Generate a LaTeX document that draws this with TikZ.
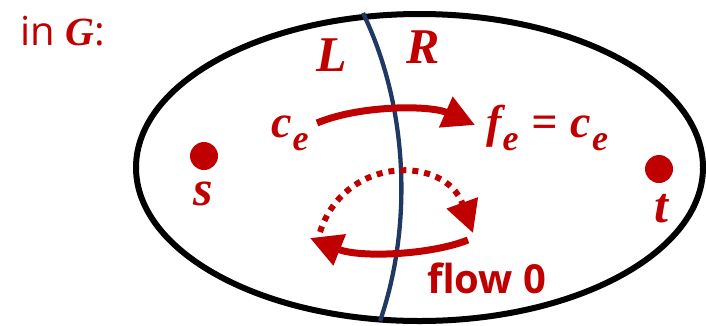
\documentclass[tikz,border=0pt]{standalone}
\usepackage{fontspec}
\setmainfont{Liberation Serif}
\setsansfont{Open Sans}
\usepackage{tikz}
\usetikzlibrary{arrows.meta,positioning}
\definecolor{cutred}{HTML}{C00000}
\definecolor{cutnavy}{HTML}{1F3864}
% bold italic variable, subscript lowered
\newcommand{\mv}[1]{{\rmfamily\bfseries\itshape #1}}
\newcommand{\sbx}[1]{\kern1pt\raisebox{-0.3em}{\fontsize{36}{36}\selectfont\rmfamily\bfseries\itshape #1}}
\tikzset{
  vertex/.style={
    circle,
    fill=cutred,
    minimum size=28pt,
    inner sep=0pt
  },
  sidelabel/.style={
    text=cutred,
    inner sep=0pt,
    font=\fontsize{50}{50}\selectfont\rmfamily\bfseries\itshape
  },
  varlabel/.style={
    text=cutred,
    inner sep=0pt,
    font=\fontsize{46}{46}\selectfont\rmfamily\bfseries\itshape
  },
  wordlabel/.style={
    text=cutred,
    inner sep=0pt,
    font=\fontsize{40}{40}\selectfont\sffamily
  },
  flowline/.style={
    draw=cutred,
    line width=7pt,
    -{Triangle[length=32pt,width=32pt]}
  },
  dotline/.style={
    flowline,
    line width=6pt,
    dash pattern=on 6pt off 6pt
  }
}

\begin{document}
\begin{tikzpicture}[x=1pt,y=-1pt]
  \useasboundingbox (0,0) rectangle (706,325);
  % graph G and the cut
  \draw[line width=6pt] (419.5,167.5) ellipse [x radius=283.5, y radius=153.5];
  \draw[cutnavy, line width=4.3pt] (363,13) .. controls (412,115) and (410,235) .. (380,321);
  \node[wordlabel, anchor=base west] (title) at (20,45) {in \mv{G}:};
  \node[sidelabel, anchor=base] (left) at (332,71) {L};
  \node[sidelabel, anchor=base] (right) at (423,63) {R};
  % source and sink
  \node[vertex] (s) at (204,156) {};
  \node[vertex] (t) at (659,169) {};
  \node[sidelabel, anchor=base] (slabel) at (203,205) {s};
  \node[sidelabel, anchor=base] (tlabel) at (661,222) {t};
  % edges across the cut
  \node[varlabel, anchor=base west] (ce) at (271,137) {c\sbx{e}};
  \node[varlabel, anchor=base west] (fe) at (486,137) {f\sbx{e}\hspace{13pt}=\hspace{13pt}c\sbx{e}};
  \node[wordlabel, font=\fontsize{40}{40}\selectfont\sffamily\bfseries, anchor=base west] (zero) at (427,293) {flow 0};
  \coordinate (a1) at (317,123);
  \coordinate (a2) at (475,125);
  \coordinate (b1) at (320,232);
  \coordinate (b2) at (473,233);
  \coordinate (c1) at (468,240);
  \coordinate (c2) at (310,238);
  \draw[flowline] (a1) .. controls (360,105) and (430,105) .. (a2);
  \draw[dotline] (b1) .. controls (345,155) and (445,155) .. (b2);
  \draw[flowline] (c1) .. controls (430,255) and (360,258) .. (c2);
\end{tikzpicture}
\end{document}
